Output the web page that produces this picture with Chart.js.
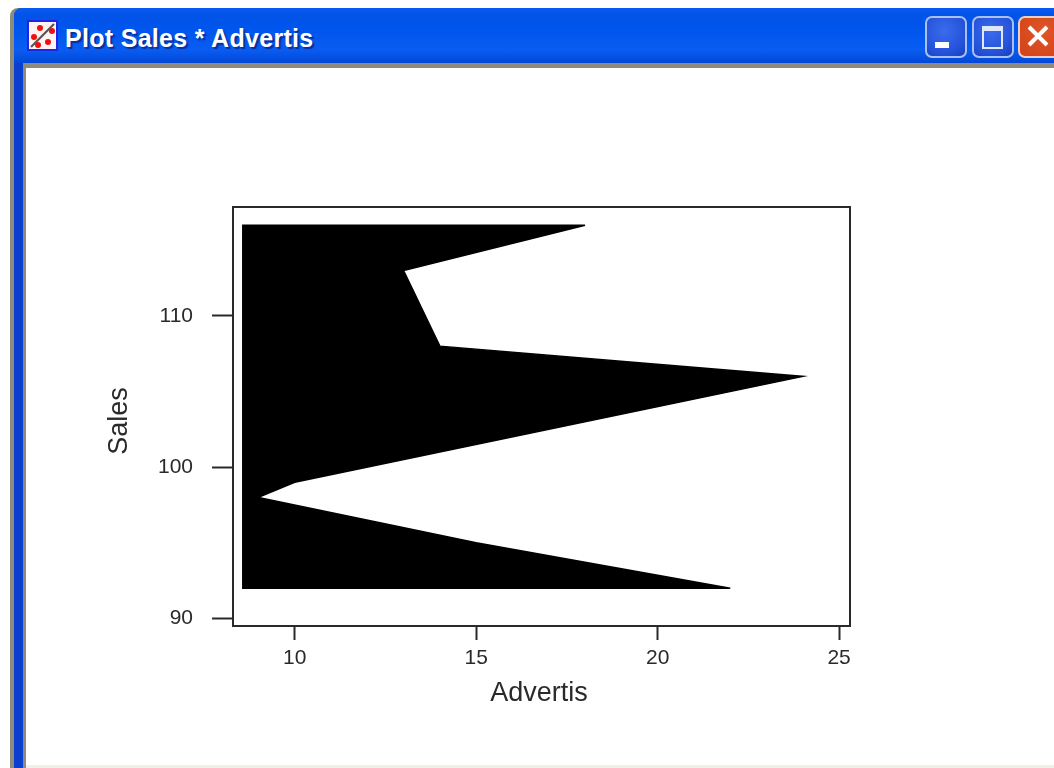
<!DOCTYPE html>
<html>
<head>
<meta charset="utf-8">
<title>Plot Sales * Advertis</title>
<script src="https://cdn.jsdelivr.net/npm/chart.js@4"></script>
<style>
  html, body { margin: 0; padding: 0; background: #fff; overflow: hidden; }
  #screen { position: relative; width: 1054px; height: 768px; overflow: hidden; }
  #screen div, #screen svg, #plot { position: absolute; }
  #edge { left: 10px; top: 8px; width: 1100px; height: 800px; background: #8f8b7c; border-radius: 8px 0 0 0; }
  #frame { left: 14px; top: 8px; width: 1100px; height: 800px; background: linear-gradient(90deg, #0a3fd0, #0a55e6 40%, #1f6cf0 80%, #0b3fc4); border-radius: 8px 0 0 0; }
  #bar { left: 14px; top: 8px; width: 1100px; height: 55px; border-radius: 8px 0 0 0; background: linear-gradient(180deg, #0a5cf0 0%, #0253e8 12%, #0056ee 45%, #0a5df2 75%, #0148d8 100%); }
  #inner { left: 23px; top: 63px; width: 1100px; height: 800px; background: #8f8b7c; }
  #client { left: 26px; top: 68px; width: 1100px; height: 697px; background: #fff; }
  #foot { left: 26px; top: 765px; width: 1100px; height: 3px; background: #f3efe6; }
  #caption { left: 65px; top: 24px; color: #fff; font: bold 25px "Liberation Sans", sans-serif; letter-spacing: 0.3px; white-space: nowrap; text-shadow: 2px 2px 1px #0a2f9c; }
  .btn { top: 16px; width: 38px; height: 38px; border: 2px solid #a9c0f0; border-radius: 7px; background: radial-gradient(circle at 45% 35%, #3a6cec, #2350d8 70%, #1a3cb8); }
  #close { left: 1018px; width: 60px; background: radial-gradient(circle at 40% 35%, #de5526, #d4451a 70%, #b83a10); border-color: #e8d0c4; }
</style>
</head>
<body>
<div id="screen">
  <div id="edge"></div>
  <div id="frame"></div>
  <div id="inner"></div>
  <div id="bar"></div>
  <div id="client"></div>
  <div id="foot"></div>
  <svg style="left:27px;top:20px" width="31" height="31" viewBox="0 0 31 31">
    <rect x="1" y="1" width="29" height="29" fill="#fdf4f4" stroke="#2222e8" stroke-width="2"/>
    <line x1="4" y1="27" x2="27" y2="4" stroke="#555" stroke-width="2.2"/>
    <circle cx="13" cy="8" r="3" fill="#f01010"/>
    <circle cx="25" cy="11" r="3" fill="#f01010"/>
    <circle cx="7" cy="17" r="3" fill="#f01010"/>
    <circle cx="21" cy="22" r="3" fill="#f01010"/>
    <circle cx="11" cy="25" r="3" fill="#f01010"/>
  </svg>
  <div id="caption">Plot Sales * Advertis</div>
  <div class="btn" style="left:925px">
    <div style="left:8px;top:24px;width:14px;height:6px;background:#fff"></div>
  </div>
  <div class="btn" style="left:972px">
    <div style="left:8px;top:8px;width:17px;height:16px;border:2px solid #dfe8fb;border-top-width:5px"></div>
  </div>
  <div class="btn" id="close">
    <svg style="left:7px;top:7px" width="22" height="22"><path d="M2 2L20 20M20 2L2 20" stroke="#fff" stroke-width="4"/></svg>
  </div>
  <canvas id="plot" width="1054" height="768" style="left:0;top:0"></canvas>
</div>

<script>
// outline of the filled shape (left edge and closing point at the end)
const advertis = [18, 13, 14, 24, 10, 9, 15, 22, 8.57, 8.57, 18];
const sales = [116, 113, 108, 106, 99, 98, 95, 92, 92, 116, 116];
const xLabel = 'Advertis';
const yLabel = 'Sales';

const FONT = '"Liberation Sans", Arial, sans-serif';
const INK = '#2a2a2a';

// box round the plot, the axes only draw two of its sides
const plotFrame = {
  id: 'plotFrame',
  afterDraw(chart) {
    const { ctx, chartArea: a } = chart;
    ctx.save();
    ctx.strokeStyle = INK;
    ctx.lineWidth = 2;
    ctx.strokeRect(a.left, a.top, a.right - a.left, a.bottom - a.top);
    ctx.restore();
  },
};

// axis titles sit a little off centre in the original, scale titles can't do that
const axisTitles = {
  id: 'axisTitles',
  afterDraw(chart) {
    const { ctx } = chart;
    ctx.save();
    ctx.fillStyle = INK;
    ctx.font = '27px ' + FONT;
    ctx.textAlign = 'center';
    ctx.textBaseline = 'middle';
    ctx.fillText(xLabel, 539, 694);
    ctx.translate(120, 421);
    ctx.rotate(-Math.PI / 2);
    ctx.fillText(yLabel, 0, 0);
    ctx.restore();
  },
};

new Chart(document.getElementById('plot'), {
  type: 'scatter',
  data: {
    datasets: [{
      data: advertis.map((x, i) => ({ x, y: sales[i] })),
      showLine: true,
      fill: 'shape',
      backgroundColor: '#000',
      borderColor: '#000',
      borderWidth: 1.5,
      pointRadius: 0,
      tension: 0,
    }],
  },
  options: {
    responsive: false,
    animation: false,
    layout: { padding: { left: 0, top: 207, right: 204, bottom: 0 } },
    plugins: { legend: { display: false }, tooltip: { enabled: false } },
    scales: {
      x: {
        min: 8.3,
        max: 25.3,
        afterFit: (s) => { s.height = 142; },
        grid: { drawOnChartArea: false, tickLength: 14, tickWidth: 2, tickColor: INK },
        border: { color: INK, width: 2 },
        ticks: { stepSize: 5, includeBounds: false, maxRotation: 0, padding: 6, color: INK, font: { family: FONT, size: 21 } },
      },
      y: {
        min: 89.5,
        max: 117.2,
        afterFit: (s) => { s.width = 233; },
        grid: { drawOnChartArea: false, tickLength: 21, tickWidth: 2, tickColor: INK },
        border: { color: INK, width: 2 },
        ticks: { stepSize: 10, includeBounds: false, padding: 19, color: INK, font: { family: FONT, size: 21 } },
      },
    },
  },
  plugins: [plotFrame, axisTitles],
});
</script>
</body>
</html>
